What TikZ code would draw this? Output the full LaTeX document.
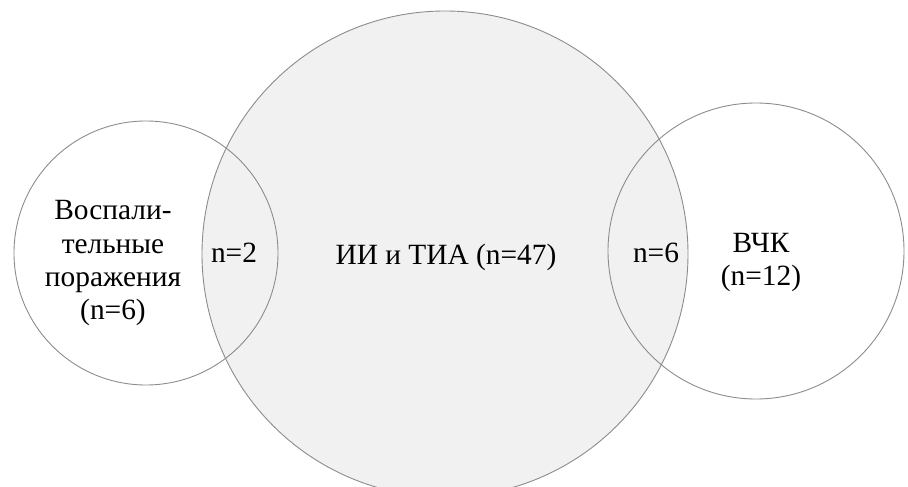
\documentclass[tikz,border=0pt]{standalone}
\usepackage{fontspec}
\setmainfont{Liberation Serif}
\definecolor{ringline}{HTML}{8C8C8C}
\definecolor{mainfill}{HTML}{F1F1F1}
\begin{document}
\begin{tikzpicture}[x=1bp,y=-1bp,
  ring/.style={draw=ringline, line width=0.9bp},
  lbl/.style={font=\fontsize{29.5}{33.5}\selectfont, inner sep=0pt, align=center, anchor=base}]
\useasboundingbox (0,0) rectangle (908,487);
% large set, filled
\fill[mainfill] (445,254) circle[radius=243];
% outlines of the three sets
\draw[ring] (445,254) circle[radius=243];
\draw[ring] (146,253) circle[radius=132];
\draw[ring] (756,251) circle[radius=148];
% labels (multi-line labels sit on the baseline of their last line)
\node[lbl] (infl) at (113,320) {Воспали-\\тельные\\поражения\\(n=6)};
\node[lbl] (lefti) at (234,263) {n=2};
\node[lbl] (main) at (446,265) {ИИ и ТИА (n=47)};
\node[lbl] (righti) at (656,263) {n=6};
\node[lbl] (vck) at (761,286) {ВЧК\\(n=12)};
\end{tikzpicture}
\end{document}
